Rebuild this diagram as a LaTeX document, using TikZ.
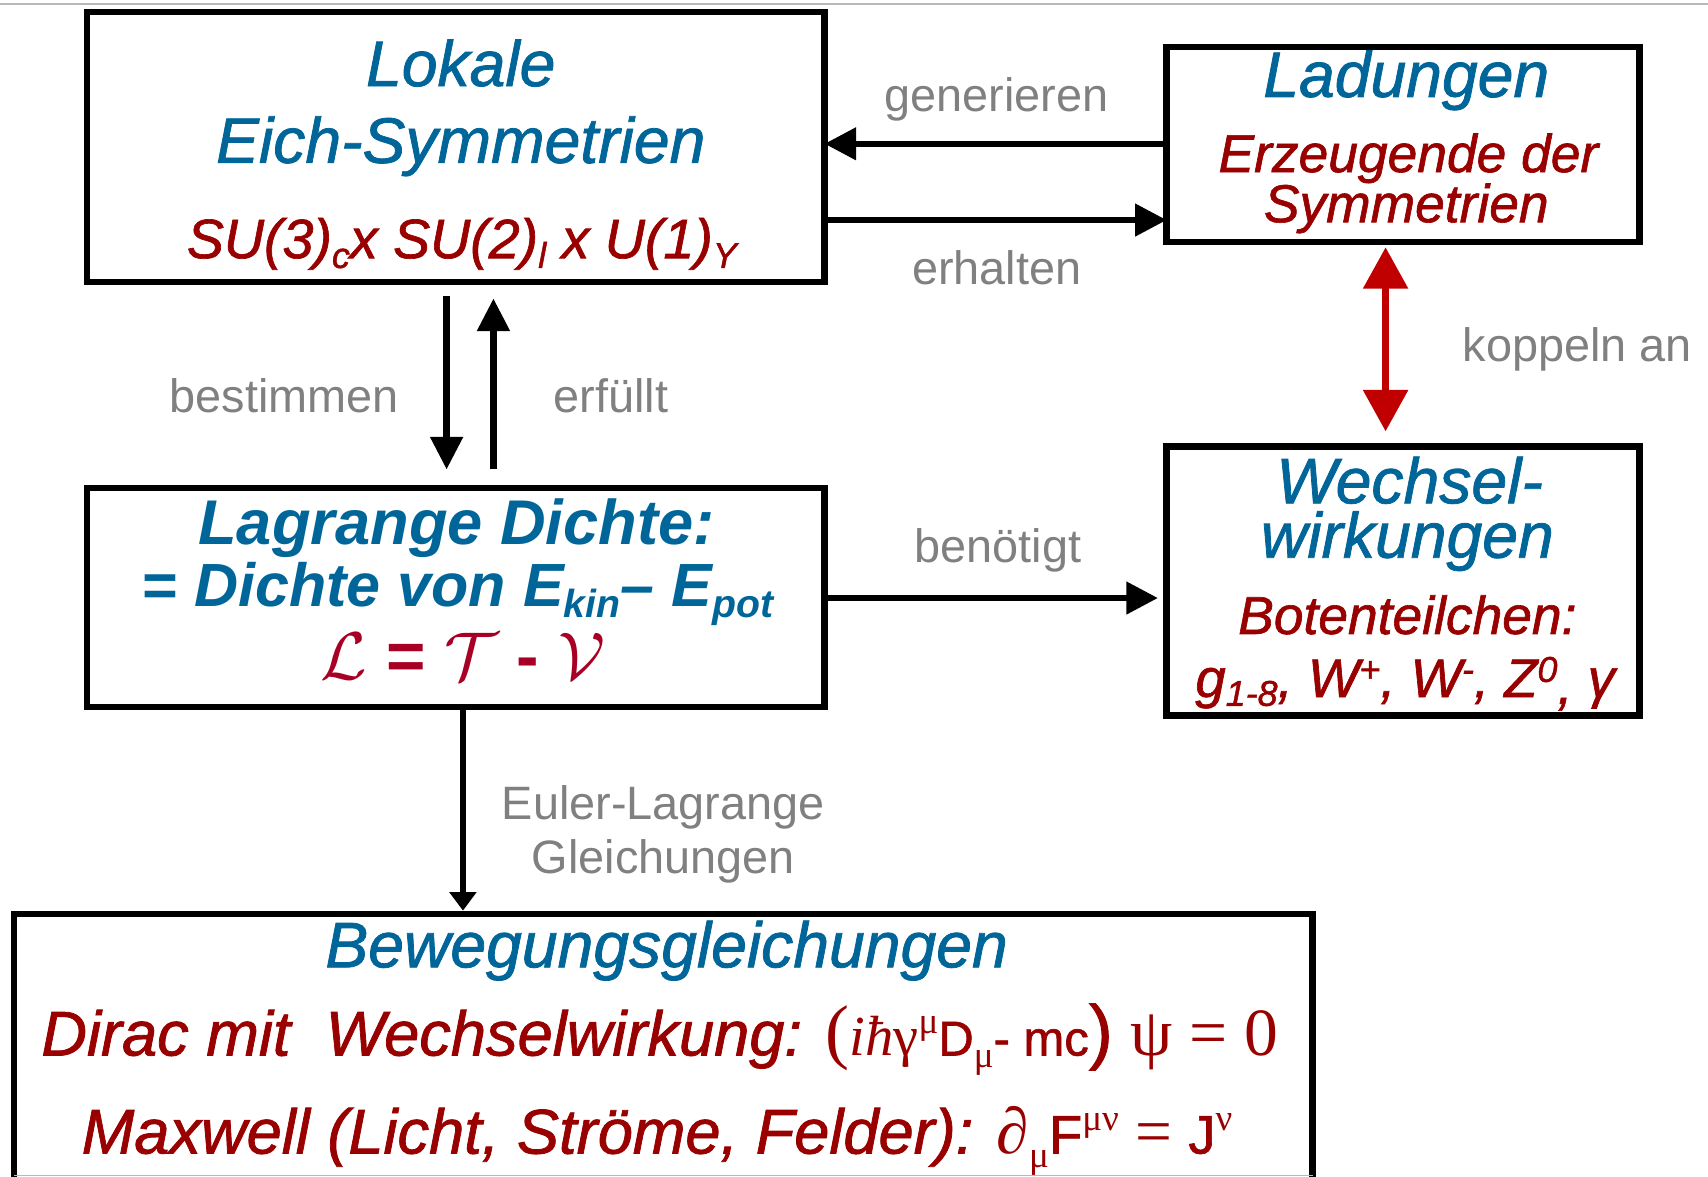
\documentclass[tikz,border=0pt]{standalone}
\usepackage{fix-cm}
\usepackage{fontspec}
\setmainfont{Liberation Sans}
\newfontfamily\seriffont{Liberation Serif}
\newfontfamily\medsans{Liberation Sans}[FakeBold=1.2]
\usetikzlibrary{arrows.meta}
\definecolor{hblue}{RGB}{0,102,153}
\definecolor{hred}{RGB}{153,0,0}
\definecolor{lgray}{RGB}{128,128,128}
\definecolor{ared}{RGB}{192,0,0}
\definecolor{lcrim}{RGB}{168,0,36}
\definecolor{fgray}{RGB}{185,185,185}
\newcommand\fs[1]{\fontsize{#1}{#1}\selectfont}
\newcommand\lowtxt[3]{\raisebox{-#1}{\fs{#2}#3}}
\newcommand\hightxt[3]{\raisebox{#1}{\fs{#2}#3}}
\begin{document}
\begin{tikzpicture}[x=1pt,y=-1pt,
  boxst/.style={draw=black, line width=6pt, fill=white, inner sep=0pt, outer sep=0pt},
  txt/.style={inner sep=0pt, outer sep=0pt, anchor=base},
  head/.style={txt, text=hblue, font=\medsans\fs{59}\itshape},
  redtxt/.style={txt, text=hred, font=\medsans\fs{49}\itshape},
  lbl/.style={txt, text=lgray, font=\fs{43}},
  conn/.style={line width=5.5pt, -{Triangle[length=29pt,width=29pt]}},
  vconn/.style={line width=6pt, -{Triangle[length=30pt,width=29pt]}},
  econn/.style={line width=6pt, -{Triangle[length=17pt,width=24pt]}},
  dconn/.style={line width=6.5pt, ared, {Triangle[length=38pt,width=40pt]}-{Triangle[length=38pt,width=40pt]}}
]
\useasboundingbox (0,0) rectangle (1568,1080);
\clip (0,0) rectangle (1568,1080);
\fill[white] (0,0) rectangle (1568,1080);
\draw[fgray, line width=2pt] (0,3.5) -- (1568,3.5);

% boxes
\node[boxst, minimum width=677pt, minimum height=248pt] (b1) at (418.5,135) {};
\node[boxst, minimum width=434pt, minimum height=179pt] (b2) at (1288,132.5) {};
\node[boxst, minimum width=434pt, minimum height=247pt] (b3) at (1288,533.5) {};
\node[boxst, minimum width=677pt, minimum height=201pt] (b4) at (418.5,548.5) {};
\node[boxst, minimum width=1192pt, minimum height=271pt] (b5) at (609,974.5) {};
\draw[fgray, line width=1.5pt] ([yshift=31pt]b5.south west) -- ([yshift=31pt]b5.south east);

% box 1
\node[head] (t1a) at (423,79) {Lokale};
\node[head] (t1b) at (423,149.5) {Eich-Symmetrien};
\node[redtxt, font=\medsans\fs{51}\itshape] (t1c) at (424,237) {SU(3)\lowtxt{9pt}{33}{c}x SU(2)\lowtxt{9pt}{33}{l} x U(1)\lowtxt{9pt}{33}{Y}};

% box 2
\node[head] (t2a) at (1291,89) {Ladungen};
\node[redtxt] (t2b) at (1293,158) {Erzeugende der};
\node[redtxt] (t2c) at (1291,204) {Symmetrien};

% box 3
\node[head] (t3a) at (1294,462) {Wechsel-};
\node[head] (t3b) at (1292,512) {wirkungen};
\node[redtxt] (t3c) at (1292,582) {Botenteilchen:};
\node[redtxt, font=\medsans\fs{50}\itshape] (t3d) at (1290,640) {g\lowtxt{8pt}{33}{1-8}, W\hightxt{14pt}{33}{+}, W\hightxt{14pt}{33}{-}, Z\hightxt{14pt}{33}{0}\lowtxt{6pt}{50}{,} γ};

% box 4
\node[txt, text=hblue, font=\fs{58}\bfseries\itshape] (t4a) at (419,500) {Lagrange Dichte:};
\node[txt, text=hblue, font=\fs{56}\bfseries\itshape] (t4b) at (420,557) {= Dichte von E\lowtxt{10pt}{36}{kin}– E\lowtxt{10pt}{36}{pot}};
\node[txt, text=lcrim, font=\fs{62}\bfseries] (t4c) at (425,624) {$\mathcal{L}$ = $\mathcal{T}$ - $\mathcal{V}$};

% box 5
\node[head] (t5a) at (612,888) {Bewegungsgleichungen};
\node[txt, anchor=base west, text=hred, font=\medsans\fs{58}\itshape] (t5b) at (38,969) {Dirac mit\ \ Wechselwirkung: {\upshape\seriffont\fs{66}(}{\seriffont\fs{52}\itshape iħ}{\upshape\seriffont\fs{52}γ\hightxt{20pt}{34}{μ}}{\upshape\fs{45}D\lowtxt{11pt}{34}{\seriffont μ}- mc\fs{66})} {\upshape\seriffont\fs{62}ψ = 0}};
\node[txt, anchor=base west, text=hred, font=\medsans\fs{58}\itshape] (t5c) at (75,1059) {Maxwell (Licht, Ströme, Felder): {\upshape\seriffont\fs{60}∂\lowtxt{13pt}{34}{μ}}{\upshape\fs{50}F}{\upshape\seriffont\hightxt{21pt}{34}{μν}\fs{60} = }{\upshape\fs{50}J}{\upshape\seriffont\hightxt{21pt}{34}{ν}}};

% labels
\node[lbl] (lgen) at (915,102) {generieren};
\node[lbl] (lerh) at (915,261) {erhalten};
\node[lbl] (lkop) at (1448,332) {koppeln an};
\node[lbl] (lbes) at (261,379) {bestimmen};
\node[lbl] (lerf) at (561,379) {erfüllt};
\node[lbl] (lben) at (916,516) {benötigt};
\node[lbl] (leu1) at (609,752) {Euler-Lagrange};
\node[lbl] (leu2) at (609,802) {Gleichungen};

% connectors
\draw[conn] ([yshift=0.5pt]b2.west) -- ([yshift=3pt]b1.east);
\draw[conn] ([yshift=-67pt]b1.east) -- ([yshift=-69.5pt]b2.west);
\draw[conn] ([yshift=-0.5pt]b4.east) -- ([xshift=-8pt,yshift=-15.5pt]b3.west);
\draw[vconn] ([xshift=-8.5pt,yshift=-13pt]b1.south) -- ([xshift=-8.5pt,yshift=17pt]b4.north);
\draw[vconn] ([xshift=34.5pt,yshift=17pt]b4.north) -- ([xshift=34.5pt,yshift=-15pt]b1.south);
\draw[econn] ([xshift=6.5pt]b4.south) -- ([xshift=-184pt,yshift=3pt]b5.north);
\draw[dconn] ([xshift=-16pt,yshift=-5pt]b2.south) -- ([xshift=-16pt,yshift=14pt]b3.north);
\end{tikzpicture}
\end{document}
